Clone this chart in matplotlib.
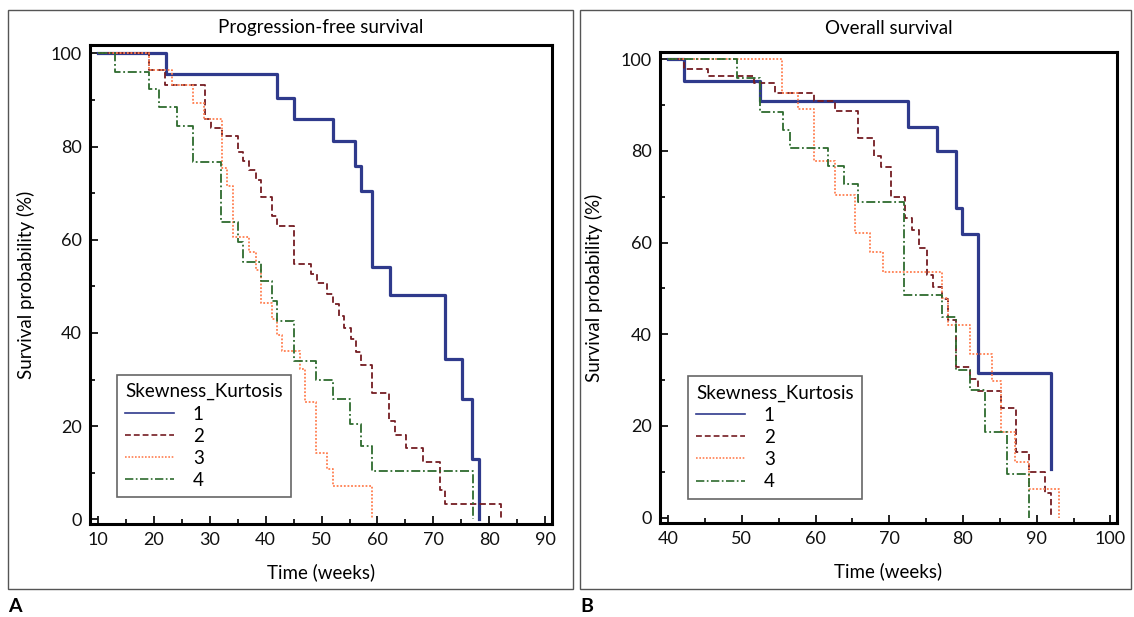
import matplotlib
matplotlib.use("Agg")
import matplotlib.pyplot as plt
from matplotlib.patches import Rectangle
from matplotlib.lines import Line2D
from matplotlib.ticker import MultipleLocator

plt.rcParams["font.family"] = ["Lato", "DejaVu Sans"]

GROUPS = ["1", "2", "3", "4"]
COLORS = ["#2f3a8c", "#741c22", "#ff7f50", "#2e6b2e"]
WIDTHS = [2.3, 1.3, 1.3, 1.3]
STYLES = ["-", (0, (3.5, 1.8)), (0, (1, 1)), (0, (5, 1.5, 1, 1.5))]

# Progression-free survival (weeks, % surviving after each step)
pfs_t1 = [10, 22.2, 42.1, 45.0, 52.1, 56.0, 57.1, 59.0, 62.2, 72.1, 75.1, 76.9, 78.2]
pfs_s1 = [100, 95.5, 90.5, 85.9, 81.1, 75.9, 70.4, 54.1, 48.1, 34.4, 25.8, 13.0, 0]

pfs_t2 = [10, 19.1, 22.0, 29.1, 30.3, 32.2, 35.1, 36.0, 37.0, 38.3, 39.2, 41.1, 42.1,
          45.1, 48.2, 49.1, 51.0, 52.0, 53.1, 54.1, 55.2, 56.2, 57.1, 59.0, 62.1,
          63.2, 65.1, 68.1, 71.1, 72.1, 82.1]
pfs_s2 = [100, 96.5, 93.2, 85.9, 83.9, 82.3, 78.9, 77.0, 75.0, 72.9, 69.1, 65.0, 63.0,
          54.7, 52.7, 50.7, 48.4, 46.2, 43.7, 41.1, 38.7, 36.0, 33.1, 27.1, 21.2,
          18.1, 15.3, 12.2, 6.2, 3.3, 0]

pfs_t3 = [10, 19.1, 23.2, 27.1, 28.9, 32.2, 33.1, 34.1, 37.0, 38.2, 39.2, 41.1, 42.1,
          43.0, 46.2, 47.1, 49.0, 51.0, 52.0, 59.0]
pfs_s3 = [100, 96.5, 93.2, 89.4, 85.9, 75.3, 71.5, 60.6, 57.4, 53.6, 46.4, 43.1, 39.6,
          36.1, 32.2, 25.1, 14.3, 10.8, 7.2, 0]

pfs_t4 = [10, 13.0, 19.1, 21.0, 24.1, 27.0, 32.1, 35.0, 35.9, 39.2, 41.1, 42.1, 45.0,
          49.0, 52.0, 55.1, 57.1, 59.0, 77.0]
pfs_s4 = [100, 95.9, 92.3, 88.5, 84.5, 76.6, 63.8, 59.6, 55.3, 51.1, 46.9, 42.6, 34.0,
          29.8, 25.8, 20.5, 15.8, 10.3, 0]

# Overall survival
os_t1 = [40, 42.1, 52.4, 72.5, 76.5, 79.1, 79.9, 82.0, 91.9]
os_s1 = [100, 95.3, 90.8, 85.3, 80.0, 67.5, 61.8, 31.5, 10.5]

os_t2 = [40, 42.1, 45.4, 51.6, 54.5, 59.8, 62.6, 65.7, 68.0, 68.9, 70.2, 72.1, 73.1,
         74.0, 75.1, 76.0, 77.1, 78.0, 79.0, 81.0, 82.0, 85.1, 87.2, 89.0, 91.1, 91.9]
os_s2 = [100, 97.8, 96.4, 94.8, 92.6, 90.8, 88.8, 82.8, 78.8, 76.4, 70.0, 65.3, 62.8,
         58.8, 52.9, 50.4, 47.6, 43.0, 32.8, 30.2, 27.7, 23.8, 14.3, 10.0, 5.4, 0]

os_t3 = [40, 55.5, 57.6, 59.8, 62.6, 65.3, 67.4, 69.1, 77.1, 78.0, 81.0, 84.0, 85.1,
         87.0, 89.0, 93.0]
os_s3 = [100, 92.7, 89.1, 77.9, 70.3, 62.0, 58.0, 53.6, 48.0, 42.1, 35.7, 29.9, 18.6,
         12.1, 6.3, 0]

os_t4 = [40, 49.4, 52.4, 55.6, 56.5, 61.7, 63.8, 65.7, 72.0, 77.1, 79.0, 81.0, 83.0,
         86.0, 89.0]
os_s4 = [100, 95.9, 88.6, 84.6, 80.7, 76.7, 72.8, 68.8, 48.5, 43.7, 32.2, 27.8, 18.6,
         9.6, 0]

W, H = 1134, 617
fig = plt.figure(figsize=(W / 100, H / 100), dpi=100)


def px_axes(left, top, right, bottom):
    # pixel box -> figure fractions
    return fig.add_axes([left / W, 1 - bottom / H, (right - left) / W, (bottom - top) / H])


def style_axes(ax, xlim, ylim, xticks):
    ax.set_xlim(*xlim)
    ax.set_ylim(*ylim)
    ax.set_xticks(xticks)
    ax.set_yticks([0, 20, 40, 60, 80, 100])
    ax.xaxis.set_minor_locator(MultipleLocator(5))
    ax.yaxis.set_minor_locator(MultipleLocator(10))
    for side in ["top", "right", "left", "bottom"]:
        ax.spines[side].set_linewidth(2.2)
    ax.tick_params(which="both", direction="in", top=False, right=False,
                   width=1.3, labelsize=13, colors="#111")
    ax.tick_params(which="major", length=6, pad=6)
    ax.tick_params(which="minor", length=3.5)
    ax.set_xlabel("Time (weeks)", fontsize=13.5)
    ax.set_ylabel("Survival probability (%)", fontsize=13.5)


def draw(ax, times, survs, legend_anchor):
    for t, s, c, lw, ls, g in zip(times, survs, COLORS, WIDTHS, STYLES, GROUPS):
        ax.step(t, s, where="post", color=c, lw=lw, linestyle=ls)
    handles = [Line2D([], [], color=c, lw=1.2, linestyle=ls) for c, ls in zip(COLORS, STYLES)]
    leg = ax.legend(handles, GROUPS, title="Skewness_Kurtosis", loc="lower left",
                    bbox_to_anchor=legend_anchor, borderaxespad=0, fancybox=False,
                    edgecolor="#666", framealpha=1, fontsize=13.5, title_fontsize=13.5,
                    handlelength=2.6, handletextpad=1.0, labelspacing=0.27,
                    borderpad=0.45, alignment="left")
    leg.get_frame().set_linewidth(1.2)


# left panel: progression-free survival
ax1 = px_axes(90, 45, 552, 524)
style_axes(ax1, (8.6, 91.2), (-1.0, 101.8), range(10, 91, 10))
draw(ax1, [pfs_t1, pfs_t2, pfs_t3, pfs_t4], [pfs_s1, pfs_s2, pfs_s3, pfs_s4], (0.058, 0.056))
ax1.yaxis.set_label_coords(-0.119, 0.5)
ax1.xaxis.set_label_coords(0.5, -0.082)
ax1.text(0.5, 1 + 17 / 479, "Progression-free survival", transform=ax1.transAxes,
         ha="center", va="center", fontsize=13.5)

# right panel: overall survival
ax2 = px_axes(660, 52, 1117, 523)
style_axes(ax2, (38.9, 100.9), (-1.2, 101.6), range(40, 101, 10))
draw(ax2, [os_t1, os_t2, os_t3, os_t4], [os_s1, os_s2, os_s3, os_s4], (0.061, 0.052))
ax2.yaxis.set_label_coords(-0.125, 0.5)
ax2.xaxis.set_label_coords(0.5, -0.084)
ax2.text(0.5, 1 + 24 / 471, "Overall survival", transform=ax2.transAxes,
         ha="center", va="center", fontsize=13.5)

# panel frames and letters
for x0, x1 in [(8, 573), (580, 1131)]:
    fig.add_artist(Rectangle((x0 / W, 1 - 589 / H), (x1 - x0) / W, (589 - 10) / H,
                             transform=fig.transFigure, fill=False,
                             edgecolor="#555", lw=1.0))
fig.text(8 / W, 1 - 606 / H, "A", ha="left", va="center", fontsize=14, fontweight="bold")
fig.text(580 / W, 1 - 606 / H, "B", ha="left", va="center", fontsize=14, fontweight="bold")

fig.savefig("out.png", dpi=100)
